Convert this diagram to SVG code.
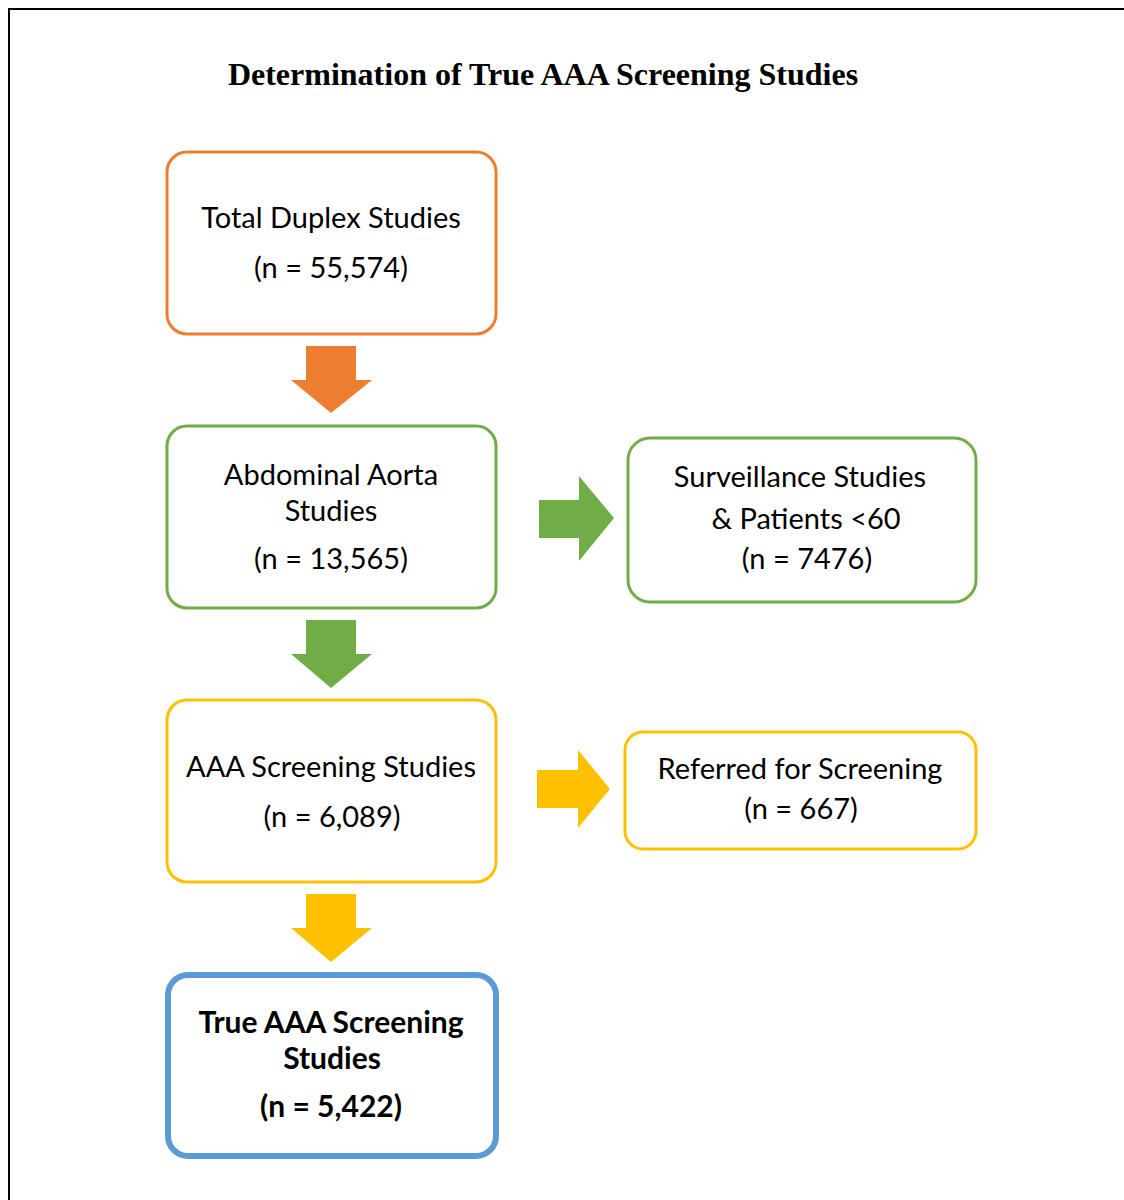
<svg xmlns="http://www.w3.org/2000/svg" width="1124" height="1200" viewBox="0 0 1124 1200">
<defs>
<style>
.t{font-family:Lato,"Liberation Sans",sans-serif;font-size:29px;fill:#000;text-anchor:middle}
.b{font-weight:bold;font-size:30px}
.title{font-family:"Liberation Serif",serif;font-weight:bold;font-size:32px;fill:#000;text-anchor:middle}
.box{fill:#fff;stroke-width:3}
</style>
</defs>
<rect width="1124" height="1200" fill="#fff"/>
<path d="M9,1200 V9 H1124" fill="none" stroke="#000" stroke-width="2"/>
<text class="title" x="543" y="85">Determination of True AAA Screening Studies</text>
<g id="connectors">
<path d="M306,346 H356 V380 H372 L331,413 L291,380 H306 Z" fill="#ED7D31"/>
<path d="M306,620 H356 V654 H372 L331,688 L291,654 H306 Z" fill="#70AD47"/>
<path d="M306,894 H356 V928 H372 L331,962 L291,928 H306 Z" fill="#FFC000"/>
<path d="M539,500 H579 V476 L614,518 L579,561 V538 H539 Z" fill="#70AD47"/>
<path d="M537,770 H578 V750 L610,789 L578,828 V808 H537 Z" fill="#FFC000"/>
</g>
<g id="n1">
<rect class="box" x="167" y="152" width="329" height="182" rx="20" stroke="#ED7D31"/>
<text class="t" x="331" y="228">Total Duplex Studies</text>
<text class="t" x="331" y="278">(n = 55,574)</text>
</g>
<g id="n2">
<rect class="box" x="167" y="426" width="329" height="182" rx="20" stroke="#70AD47"/>
<text class="t" x="331" y="485">Abdominal Aorta</text>
<text class="t" x="331" y="521">Studies</text>
<text class="t" x="331" y="569">(n = 13,565)</text>
</g>
<g id="n3">
<rect class="box" x="628" y="438" width="348" height="164" rx="22" stroke="#70AD47"/>
<text class="t" x="800" y="487">Surveillance Studies</text>
<text class="t" x="806" y="529">&amp; Patients &lt;60</text>
<text class="t" x="807" y="569">(n = 7476)</text>
</g>
<g id="n4">
<rect class="box" x="167" y="700" width="329" height="182" rx="20" stroke="#FFC000"/>
<text class="t" x="331" y="777">AAA Screening Studies</text>
<text class="t" x="332" y="827">(n = 6,089)</text>
</g>
<g id="n5">
<rect class="box" x="625" y="732" width="351" height="117" rx="18" stroke="#FFC000"/>
<text class="t" x="800" y="779">Referred for Screening</text>
<text class="t" x="801" y="819">(n = 667)</text>
</g>
<g id="n6">
<rect class="box" x="168" y="975" width="328" height="181" rx="20" stroke="#5B9BD5" style="stroke-width:6"/>
<text class="t b" x="331" y="1033">True AAA Screening</text>
<text class="t b" x="332" y="1069">Studies</text>
<text class="t b" x="331" y="1117">(n = 5,422)</text>
</g>
</svg>
